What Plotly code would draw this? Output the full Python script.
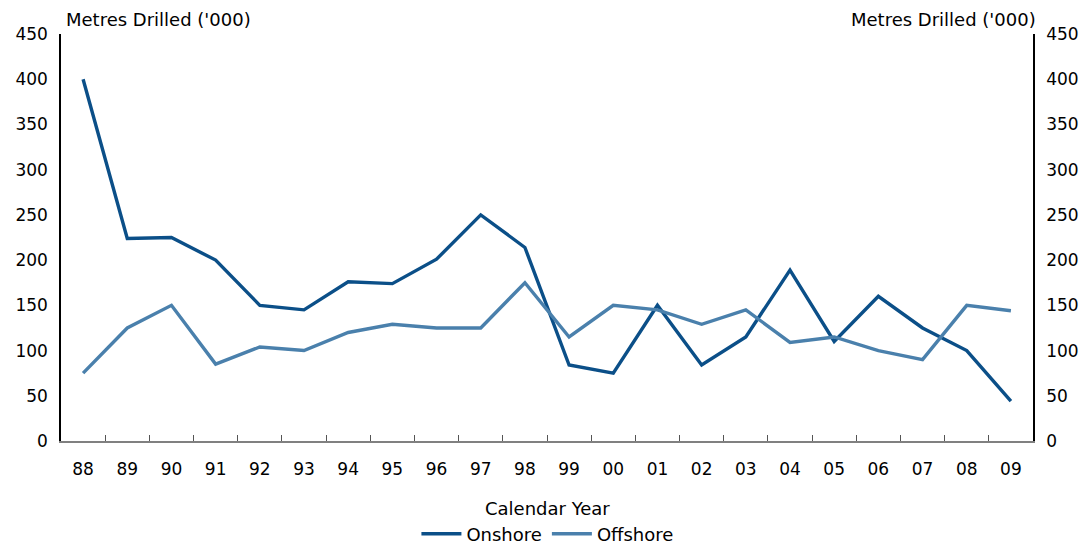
import plotly.graph_objects as go

years = ["88", "89", "90", "91", "92", "93", "94", "95", "96", "97", "98",
         "99", "00", "01", "02", "03", "04", "05", "06", "07", "08", "09"]
onshore = [400, 224, 225, 200, 150, 145, 176, 174, 201, 250, 214,
           84, 75, 150, 84, 115, 189, 110, 160, 125, 100, 44]
offshore = [75, 125, 150, 85, 104, 100, 120, 129, 125, 125, 175,
            115, 150, 145, 129, 145, 109, 115, 100, 90, 150, 144]
y_ticks = [0, 50, 100, 150, 200, 250, 300, 350, 400, 450]

FONT = "DejaVu Sans, Arial, sans-serif"
FS = 17      # tick labels
FS_TXT = 18  # titles and legend
ON_COLOR = "#0B4F88"
OFF_COLOR = "#4A80AC"

fig = go.Figure()
fig.add_trace(go.Scatter(x=years, y=onshore, name="Onshore", mode="lines",
                         line=dict(color=ON_COLOR, width=3.4)))
fig.add_trace(go.Scatter(x=years, y=offshore, name="Offshore", mode="lines",
                         line=dict(color=OFF_COLOR, width=3.4)))
# invisible trace to anchor the right-hand axis
fig.add_trace(go.Scatter(x=years, y=onshore, yaxis="y2", mode="lines",
                         line=dict(width=0), showlegend=False, hoverinfo="skip",
                         opacity=0))

fig.update_layout(
    width=1084, height=546,
    margin=dict(l=61, r=51, t=34, b=105, autoexpand=False),
    paper_bgcolor="white", plot_bgcolor="white",
    font=dict(family=FONT, size=FS, color="#000000"),
    showlegend=True,
    legend=dict(orientation="h", x=0.505, xanchor="center", xref="container",
                y=-0.2285, yanchor="middle", yref="paper",
                font=dict(size=FS_TXT), itemwidth=40, tracegroupgap=0,
                borderwidth=0, bgcolor="rgba(0,0,0,0)"),
    xaxis=dict(type="category", categoryorder="array", categoryarray=years,
               range=[-0.5, len(years) - 0.5],
               tickson="boundaries", ticks="inside", ticklen=6, tickcolor="#555555",
               showline=True, linecolor="#808080", linewidth=2,
               showgrid=False, zeroline=False,
               tickfont=dict(size=FS), ticklabelstandoff=12),
    yaxis=dict(range=[0, 450], tickvals=y_ticks, showline=True, linecolor="#000000",
               linewidth=1.5, ticks="", showgrid=False, zeroline=False,
               tickfont=dict(size=FS), ticklabelstandoff=8),
    yaxis2=dict(range=[0, 450], tickvals=y_ticks, overlaying="y", side="right",
                showline=True, linecolor="#000000", linewidth=1.5, ticks="",
                showgrid=False, zeroline=False, tickfont=dict(size=FS),
                ticklabelstandoff=8),
    annotations=[
        dict(text="Metres Drilled ('000)", xref="paper", yref="paper",
             x=0.003, y=1.0, xanchor="left", yanchor="bottom", yshift=2,
             showarrow=False, font=dict(size=FS_TXT)),
        dict(text="Metres Drilled ('000)", xref="paper", yref="paper",
             x=1.005, y=1.0, xanchor="right", yanchor="bottom", yshift=2,
             showarrow=False, font=dict(size=FS_TXT)),
        dict(text="Calendar Year", xref="paper", yref="paper",
             x=0.5, y=0.0, xanchor="center", yanchor="middle", yshift=-67,
             showarrow=False, font=dict(size=FS_TXT)),
    ],
)

fig.write_html("out.html")
